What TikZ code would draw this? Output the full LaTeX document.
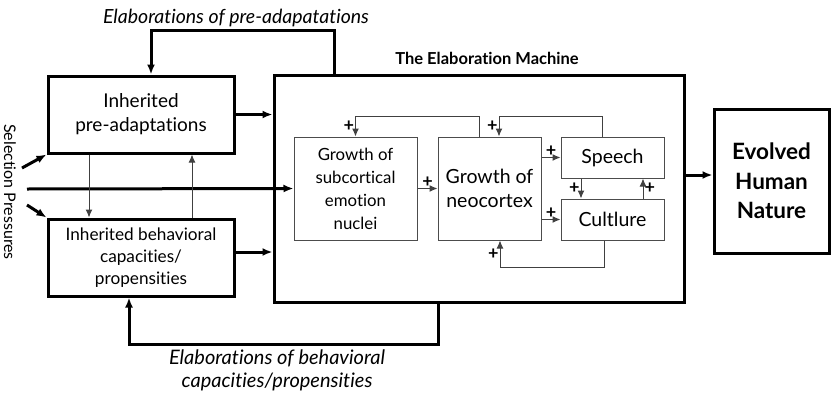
\documentclass[tikz,border=0pt]{standalone}
\usepackage{fontspec}
\setmainfont{Lato}[Ligatures={NoCommon}]
\usetikzlibrary{arrows.meta}

\begin{document}
\begin{tikzpicture}[x=1pt, y=-1pt,
  outer/.style = {shape=rectangle, draw, line width=3pt, align=center, inner sep=0pt},
  inner/.style = {shape=rectangle, draw=black!70, line width=1pt, align=center, inner sep=0pt},
  bigarrow/.style = {-{Latex[length=10pt,width=8pt]}, line width=3pt},
  smallarrow/.style = {-{Latex[length=8pt,width=7pt]}, draw=black!75, line width=1pt},
  plus/.style = {font=\fontsize{18}{18}\selectfont\bfseries, inner sep=1pt}
  ]
  \useasboundingbox (0,0) rectangle (831,394);
  % outer boxes
  \node [outer, minimum width=186pt, minimum height=77pt, font=\fontsize{19}{24}\selectfont] (pre) at (141,114.5) {Inherited\\pre-adaptations};
  \node [outer, minimum width=186pt, minimum height=77pt, font=\fontsize{17.2}{22}\selectfont] (low) at (141,257.5) {Inherited behavioral\\capacities/\\propensities};
  \node [outer, minimum width=410pt, minimum height=227pt] (mach) at (479,188.5) {};
  \node [font=\fontsize{16.5}{18}\selectfont\bfseries] (title) at (487,58) {The Elaboration Machine};
  \node [outer, minimum width=115pt, minimum height=144pt, font=\fontsize{22.5}{29.5}\selectfont\bfseries] (evo) at (771.5,181) {Evolved\\Human\\Nature};
  \node [rotate=-90, font=\fontsize{16}{18}\selectfont] (selp) at (10,192) {Selection Pressures};
  \node [font=\fontsize{19.5}{22}\selectfont\itshape] (elab1) at (236,18) {Elaborations of pre-adapatations};
  \node [font=\fontsize{20}{23}\selectfont\itshape, align=center] (elab2) at (277,370) {Elaborations of behavioral\\capacities/propensities};
  % inner boxes
  \node [inner, minimum width=123pt, minimum height=103pt, font=\fontsize{16.8}{23}\selectfont] (sub) at (355.5,188.5) {Growth of\\subcortical\\emotion\\nuclei};
  \node [inner, minimum width=103pt, minimum height=103pt, font=\fontsize{19.5}{24}\selectfont] (neo) at (489.5,188.5) {Growth of\\neocortex};
  \node [inner, minimum width=103pt, minimum height=41pt, font=\fontsize{19.5}{22}\selectfont] (speech) at (612.5,157.5) {Speech};
  \node [inner, minimum width=103pt, minimum height=41pt, font=\fontsize{19.5}{22}\selectfont] (cult) at (612.5,219.5) {Cultlure};

  % selection pressures in
  \coordinate (sel1) at (22,168);
  \coordinate (sel2) at (27,189);
  \coordinate (sel3) at (27,205);
  \draw [bigarrow] (sel1) -- (pre.south west);
  \draw [bigarrow] (sel2) -- (sub.west);
  \draw [bigarrow] (sel3) -- (low.north west);

  % outer connectors
  \draw [bigarrow] (pre.east) -- (pre.east -| mach.west);
  \draw [bigarrow] ([yshift=5.5pt]low.east) -- ([yshift=5.5pt]low.east -| mach.west);
  \draw [bigarrow] ([yshift=13.5pt]mach.east) -- ([yshift=13.5pt]mach.east -| evo.west);
  \draw [smallarrow] ([xshift=-52pt]pre.south) -- ([xshift=-52pt]low.north);
  \draw [smallarrow] ([xshift=51pt]low.north) -- ([xshift=51pt]pre.south);
  \draw [bigarrow] ([xshift=-145pt]mach.north) -- ++(0,-43) -| ([xshift=10pt]pre.north);
  \draw [bigarrow] ([xshift=-41pt]mach.south) -- ++(0,41) -| ([xshift=-12pt]low.south);

  % inner connectors
  \draw [smallarrow] (sub.east) -- node [plus, above] {+} (neo.west);
  \draw [smallarrow] (neo.east |- speech) -- node [plus, above] {+} (speech.west);
  \draw [smallarrow] (neo.east |- cult) -- node [plus, above] {+} (cult.west);
  \draw [smallarrow] ([xshift=-31.5pt]speech.south) -- node [plus, left] {+} ([xshift=-31.5pt]cult.north);
  \draw [smallarrow] ([xshift=30.5pt]cult.north) -- node [plus, right] {+} ([xshift=30.5pt]speech.south);
  \draw [smallarrow] ([xshift=-10.5pt]neo.north) -- ++(0,-20) -| node [plus, pos=0.75, left] {+} (sub.north);
  \draw [smallarrow] ([xshift=-10.5pt]speech.north) -- ++(0,-20) -| node [plus, pos=0.75, left] {+} ([xshift=9.5pt]neo.north);
  \draw [smallarrow] ([xshift=-8.5pt]cult.south) -- ++(0,27) -| node [plus, pos=0.75, left] {+} ([xshift=10.5pt]neo.south);
\end{tikzpicture}
\end{document}
